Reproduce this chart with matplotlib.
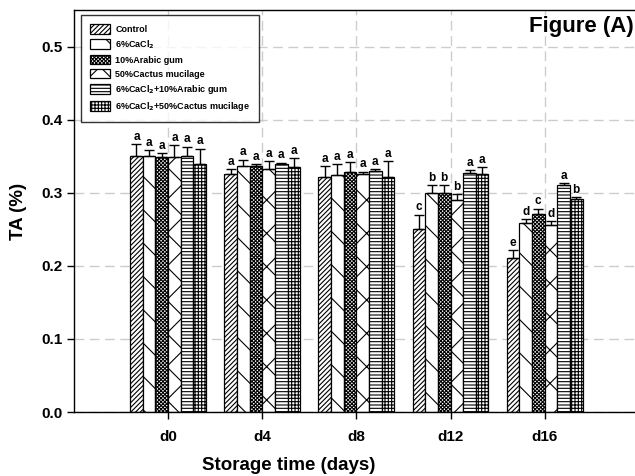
import numpy as np
import matplotlib.pyplot as plt

plt.rcParams['font.family'] = ['Liberation Sans', 'DejaVu Sans']
plt.rcParams['font.weight'] = 'bold'
plt.rcParams['hatch.linewidth'] = 0.8

# data
days = ['d0', 'd4', 'd8', 'd12', 'd16']
treatments = ['Control', '6%CaCl$_\\mathbf{2}$', '10%Arabic gum', '50%Cactus mucilage',
              '6%CaCl$_\\mathbf{2}$+10%Arabic gum', '6%CaCl$_\\mathbf{2}$+50%Cactus mucilage']
control = [0.350, 0.326, 0.321, 0.250, 0.211]
cacl2 = [0.350, 0.337, 0.324, 0.300, 0.258]
arabic = [0.349, 0.336, 0.328, 0.300, 0.271]
cactus = [0.349, 0.332, 0.325, 0.290, 0.256]
cacl2_arabic = [0.350, 0.339, 0.330, 0.327, 0.311]
cacl2_cactus = [0.339, 0.335, 0.322, 0.325, 0.291]
err_control = [0.016, 0.006, 0.015, 0.020, 0.010]
err_cacl2 = [0.008, 0.008, 0.015, 0.010, 0.006]
err_arabic = [0.005, 0.003, 0.014, 0.010, 0.007]
err_cactus = [0.016, 0.011, 0.004, 0.008, 0.005]
err_cacl2_arabic = [0.013, 0.002, 0.002, 0.004, 0.002]
err_cacl2_cactus = [0.021, 0.012, 0.021, 0.010, 0.003]
letters = [['a', 'a', 'a', 'a', 'a', 'a'],
           ['a', 'a', 'a', 'a', 'a', 'a'],
           ['a', 'a', 'a', 'a', 'a', 'a'],
           ['c', 'b', 'b', 'b', 'a', 'a'],
           ['e', 'd', 'c', 'd', 'a', 'b']]

series = [control, cacl2, arabic, cactus, cacl2_arabic, cacl2_cactus]
errors = [err_control, err_cacl2, err_arabic, err_cactus, err_cacl2_arabic, err_cacl2_cactus]
hatches = ['///////', '\\', 'xxxxxxxxx', 'x', '-----', '+++++']

fig = plt.figure(figsize=(6.35, 4.76), dpi=100)
ax = fig.add_axes([74 / 635, 64 / 476, 561 / 635, 402 / 476])

x = np.arange(len(days))
w = 0.1345
for i, (vals, errs, h) in enumerate(zip(series, errors, hatches)):
    pos = x + (i - 2.5) * w
    ax.bar(pos, vals, w, color='white', edgecolor='black', hatch=h, linewidth=0.9,
           label=treatments[i], zorder=2)
    ax.errorbar(pos, vals, yerr=[np.zeros(len(vals)), errs], fmt='none', ecolor='black',
                elinewidth=1, capsize=3.5, capthick=1, zorder=3)
    for j in range(len(days)):
        ax.text(pos[j], vals[j] + errs[j] + 0.002, letters[j][i], ha='center', va='bottom',
                fontsize=8.5, fontweight='bold')

ax.set_xlim(-1.0, 4.96)
ax.set_ylim(0, 0.55)
ax.set_xticks(x)
ax.set_xticklabels(days, fontsize=11, fontweight='bold')
ax.set_yticks(np.arange(0, 0.51, 0.1))
ax.set_yticklabels(['0.0', '0.1', '0.2', '0.3', '0.4', '0.5'], fontsize=11, fontweight='bold')
ax.tick_params(direction='out', length=5, width=1)
ax.tick_params(axis='x', pad=8)
ax.grid(True, color='#cccccc', linestyle=(0, (7, 4)), linewidth=1, zorder=0)
ax.set_axisbelow(True)
ax.spines['right'].set_visible(False)
for s in ['left', 'bottom', 'top']:
    ax.spines[s].set_linewidth(1)

ax.set_xlabel('Storage time (days)', fontsize=13.5, fontweight='bold')
ax.xaxis.set_label_coords(0.383, -0.112)
ax.set_ylabel('TA (%)', fontsize=13.5, fontweight='bold', labelpad=10)
ax.text(0.997, 0.985, 'Figure (A)', transform=ax.transAxes, ha='right', va='top',
        fontsize=16, fontweight='bold')

leg = ax.legend(loc='upper left', bbox_to_anchor=(7 / 561, 1 - 5 / 402), borderaxespad=0,
                fontsize=6.5, frameon=True, fancybox=False, edgecolor='black',
                handlelength=2.2, handleheight=1.3, labelspacing=0.45, borderpad=1.0,
                handletextpad=0.6)
leg.get_frame().set_linewidth(1)
for t in leg.get_texts():
    t.set_fontweight('bold')

fig.savefig('out.png', dpi=100)
